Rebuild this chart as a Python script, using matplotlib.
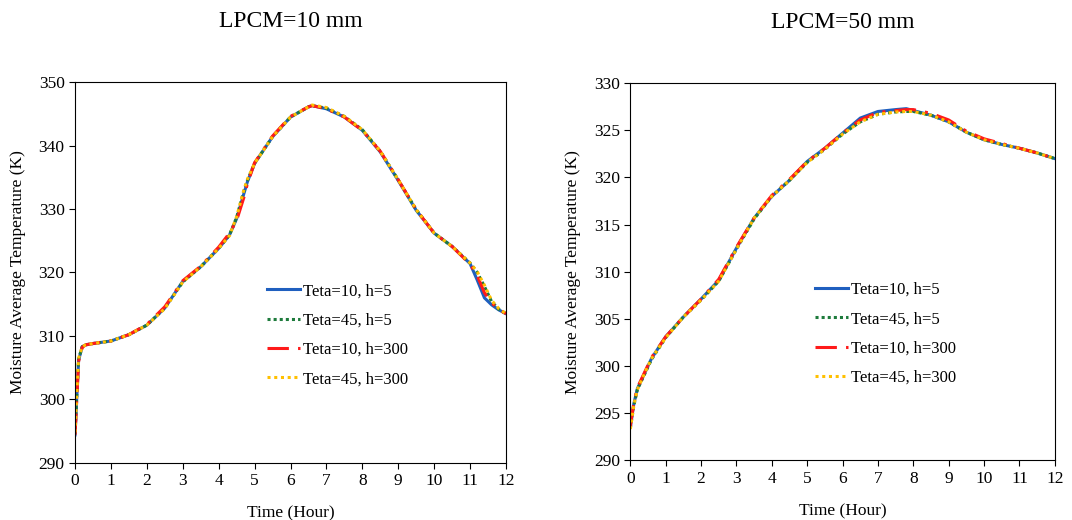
import matplotlib.pyplot as plt

plt.rcParams['font.family'] = ['Liberation Serif', 'DejaVu Serif']

# LPCM = 10 mm
t10 = [0, 0.05, 0.1, 0.2, 0.3, 0.5, 1.0, 1.5, 2.0, 2.5, 3.0, 3.5, 4.0, 4.3, 4.5,
       4.7, 4.8, 5.0, 5.5, 6.0, 6.5, 6.6, 7.0, 7.5, 8.0, 8.5, 9.0, 9.5, 10.0,
       10.5, 11.0, 11.2, 11.4, 11.6, 11.8, 12.0]
a_h5 = [294.4, 300.5, 306.2, 308.3, 308.6, 308.8, 309.2, 310.2, 311.7, 314.4,
        318.6, 320.9, 323.8, 325.9, 328.5, 332.4, 334.3, 337.2, 341.4, 344.5,
        346.1, 346.3, 345.8, 344.5, 342.4, 339.0, 334.5, 329.8, 326.2, 324.1,
        321.4, 318.8, 316.0, 314.9, 314.1, 313.5]
b_h5 = [294.6, 300.8, 306.4, 308.3, 308.6, 308.8, 309.2, 310.2, 311.7, 314.4,
        318.5, 320.9, 323.8, 325.9, 328.7, 332.8, 334.5, 337.2, 341.4, 344.5,
        346.1, 346.3, 345.9, 344.6, 342.5, 339.1, 334.6, 329.9, 326.2, 324.1,
        321.5, 320.0, 317.8, 315.4, 314.2, 313.5]
a_h300 = [294.4, 300.2, 306.0, 308.2, 308.6, 308.8, 309.2, 310.2, 311.8, 314.6,
          318.7, 321.0, 324.0, 326.2, 328.2, 331.8, 334.0, 337.3, 341.5, 344.6,
          346.1, 346.3, 345.8, 344.5, 342.4, 339.1, 334.6, 329.9, 326.2, 324.1,
          321.3, 319.5, 316.8, 315.2, 314.2, 313.5]
b_h300 = [294.8, 301.0, 306.5, 308.3, 308.6, 308.8, 309.2, 310.2, 311.7, 314.3,
          318.5, 320.9, 323.8, 325.8, 328.8, 333.0, 334.7, 337.2, 341.4, 344.5,
          346.1, 346.4, 346.0, 344.6, 342.5, 339.1, 334.6, 329.9, 326.2, 324.1,
          321.5, 320.1, 318.0, 315.6, 314.3, 313.5]

# LPCM = 50 mm
t50 = [0, 0.1, 0.2, 0.4, 0.6, 1.0, 1.5, 2.0, 2.5, 3.0, 3.5, 4.0, 4.5, 5.0, 5.5,
       6.0, 6.5, 7.0, 7.5, 7.8, 8.0, 8.5, 9.0, 9.5, 10.0, 10.5, 11.0, 11.5, 12.0]
c_h5 = [293.5, 296.0, 297.6, 299.2, 300.8, 303.1, 305.2, 307.1, 309.1, 312.5,
        315.7, 318.0, 319.7, 321.7, 323.1, 324.7, 326.3, 327.0, 327.2, 327.3,
        327.1, 326.6, 325.9, 324.8, 324.0, 323.5, 323.1, 322.6, 322.0]
d_h5 = [293.4, 295.8, 297.5, 299.1, 300.7, 303.0, 305.2, 307.0, 309.0, 312.4,
        315.6, 318.0, 319.7, 321.6, 323.0, 324.6, 325.9, 326.7, 326.95, 327.0,
        327.0, 326.6, 325.9, 324.8, 324.0, 323.5, 323.1, 322.6, 322.0]
c_h300 = [293.6, 296.1, 297.7, 299.3, 300.9, 303.1, 305.2, 307.1, 309.2, 312.6,
          315.7, 318.1, 319.8, 321.7, 323.1, 324.7, 326.1, 326.9, 327.1, 327.2,
          327.2, 326.8, 326.1, 324.9, 324.1, 323.6, 323.1, 322.6, 322.0]
d_h300 = [293.3, 295.9, 297.5, 299.2, 300.8, 303.0, 305.2, 307.0, 309.0, 312.4,
          315.7, 318.0, 319.7, 321.6, 323.0, 324.6, 325.9, 326.7, 326.95, 327.0,
          327.0, 326.6, 325.9, 324.8, 324.0, 323.5, 323.1, 322.6, 322.0]

labels = ['Teta=10, h=5', 'Teta=45, h=5', 'Teta=10, h=300', 'Teta=45, h=300']

fig = plt.figure(figsize=(10.72, 5.2), dpi=100)
ax1 = fig.add_axes([0.070, 0.110, 0.402, 0.732])
ax2 = fig.add_axes([0.588, 0.115, 0.396, 0.725])


def draw(ax, t, series, ylim, yticks, title, leg_x):
    ax.plot(t, series[0], color='#1f5fbf', lw=2.2, label=labels[0])
    ax.plot(t, series[1], color='#1e7b3c', lw=2.2, ls=(0, (1, 1)), label=labels[1])
    ax.plot(t, series[2], color='#ff1a1a', lw=2.2, ls=(0, (7, 3, 1, 3)), label=labels[2])
    ax.plot(t, series[3], color='#ffc000', lw=2.2, ls=(0, (1, 1.2)), label=labels[3])
    ax.set_xlim(0, 12)
    ax.set_ylim(*ylim)
    ax.set_xticks(range(0, 13))
    ax.set_yticks(yticks)
    ax.tick_params(direction='out', labelsize=12.5, length=4)
    ax.set_xlabel('Time (Hour)', fontsize=12.5, labelpad=12)
    ax.set_ylabel('Moisture Average Temperature (K)', fontsize=12.5, labelpad=9)
    ax.set_title(title, fontsize=17, pad=40)
    ax.legend(loc='center left', bbox_to_anchor=(leg_x, 0.335), frameon=False,
              fontsize=12, handlelength=2.0, handletextpad=0.15, labelspacing=0.8)


draw(ax1, t10, [a_h5, b_h5, a_h300, b_h300], (290, 350), range(290, 351, 10),
     'LPCM=10 mm', 0.41)
draw(ax2, t50, [c_h5, d_h5, c_h300, d_h300], (290, 330), range(290, 331, 5),
     'LPCM=50 mm', 0.40)

fig.savefig('out.png', dpi=100)
